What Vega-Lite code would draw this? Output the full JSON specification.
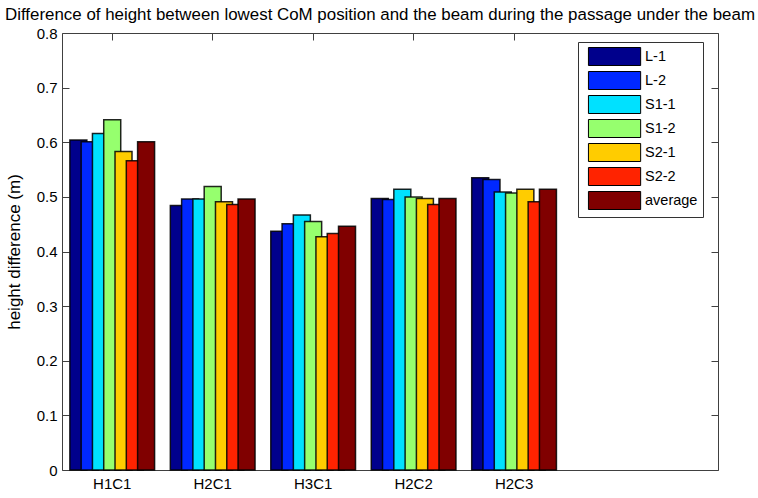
{
  "$schema": "https://vega.github.io/schema/vega-lite/v6.json",
  "width": 656,
  "height": 437,
  "padding": {"left": 5, "top": 5, "right": 5, "bottom": 5},
  "title": {"text": "Difference of height between lowest CoM position and the beam during the passage under the beam", "fontSize": 16.9, "fontWeight": "normal", "font": "Liberation Sans", "color": "black", "offset": 2.5, "dx": -10},
  "config": {
    "font": "Liberation Sans",
    "view": {"stroke": "#404040", "strokeWidth": 1},
    "axis": {"grid": false, "labelColor": "black", "titleColor": "black", "tickColor": "#404040", "domain": false, "labelFontSize": 15, "titleFontSize": 17, "titleFontWeight": "normal"}
  },
  "data": {"values": [
    {"group": "H1C1", "series": "L-1", "value": 0.604},
    {"group": "H1C1", "series": "L-2", "value": 0.601},
    {"group": "H1C1", "series": "S1-1", "value": 0.616},
    {"group": "H1C1", "series": "S1-2", "value": 0.641},
    {"group": "H1C1", "series": "S2-1", "value": 0.583},
    {"group": "H1C1", "series": "S2-2", "value": 0.566},
    {"group": "H1C1", "series": "average", "value": 0.601},
    {"group": "H2C1", "series": "L-1", "value": 0.484},
    {"group": "H2C1", "series": "L-2", "value": 0.496},
    {"group": "H2C1", "series": "S1-1", "value": 0.496},
    {"group": "H2C1", "series": "S1-2", "value": 0.519},
    {"group": "H2C1", "series": "S2-1", "value": 0.491},
    {"group": "H2C1", "series": "S2-2", "value": 0.486},
    {"group": "H2C1", "series": "average", "value": 0.496},
    {"group": "H3C1", "series": "L-1", "value": 0.437},
    {"group": "H3C1", "series": "L-2", "value": 0.451},
    {"group": "H3C1", "series": "S1-1", "value": 0.467},
    {"group": "H3C1", "series": "S1-2", "value": 0.455},
    {"group": "H3C1", "series": "S2-1", "value": 0.427},
    {"group": "H3C1", "series": "S2-2", "value": 0.433},
    {"group": "H3C1", "series": "average", "value": 0.446},
    {"group": "H2C2", "series": "L-1", "value": 0.497},
    {"group": "H2C2", "series": "L-2", "value": 0.495},
    {"group": "H2C2", "series": "S1-1", "value": 0.514},
    {"group": "H2C2", "series": "S1-2", "value": 0.500},
    {"group": "H2C2", "series": "S2-1", "value": 0.497},
    {"group": "H2C2", "series": "S2-2", "value": 0.486},
    {"group": "H2C2", "series": "average", "value": 0.497},
    {"group": "H2C3", "series": "L-1", "value": 0.535},
    {"group": "H2C3", "series": "L-2", "value": 0.532},
    {"group": "H2C3", "series": "S1-1", "value": 0.509},
    {"group": "H2C3", "series": "S1-2", "value": 0.507},
    {"group": "H2C3", "series": "S2-1", "value": 0.514},
    {"group": "H2C3", "series": "S2-2", "value": 0.491},
    {"group": "H2C3", "series": "average", "value": 0.514}
  ]},
  "resolve": {"axis": {"x": "independent", "y": "independent"}},
  "layer": [
    {
      "mark": {"type": "bar", "width": 17, "stroke": "black", "strokeWidth": 1.5, "strokeOpacity": 0.85},
      "encoding": {
        "x": {"field": "group", "type": "nominal", "sort": ["H1C1", "H2C1", "H3C1", "H2C2", "H2C3"],
              "scale": {"domain": ["H1C1", "H2C1", "H3C1", "H2C2", "H2C3"], "paddingInner": 0, "paddingOuter": 0.765, "align": 0},
              "axis": {"orient": "bottom", "title": null, "labelAngle": 0, "tickSize": -7, "labelPadding": 13}},
        "xOffset": {"field": "series", "type": "nominal", "sort": ["L-1", "L-2", "S1-1", "S1-2", "S2-1", "S2-2", "average"],
              "scale": {"paddingInner": 0, "paddingOuter": 0.95}},
        "y": {"field": "value", "type": "quantitative",
              "scale": {"domain": [0, 0.8], "nice": false, "zero": true},
              "axis": {"orient": "left", "title": "height difference (m)", "values": [0, 0.1, 0.2, 0.3, 0.4, 0.5, 0.6, 0.7, 0.8], "format": ".1~f", "tickSize": -7, "labelPadding": 12, "titlePadding": 13}},
        "color": {"field": "series", "type": "nominal",
              "scale": {"domain": ["L-1", "L-2", "S1-1", "S1-2", "S2-1", "S2-2", "average"],
                        "range": ["#00008c", "#0028ff", "#00e1ff", "#96ff6e", "#ffcc00", "#ff2300", "#800000"]},
              "legend": {"title": null, "orient": "none", "legendX": 516, "legendY": 9, "strokeColor": "#333333", "fillColor": "white", "padding": 5,
                         "symbolType": "M-0.45,-1H5.35V1H-0.45Z", "symbolSize": 324, "symbolStrokeColor": "black", "symbolStrokeWidth": 1, "symbolOpacity": 1,
                         "labelOffset": 43, "labelFontSize": 14.5, "labelColor": "black", "rowPadding": 1}}
      }
    },
    {
      "mark": {"type": "bar", "width": 17, "opacity": 0},
      "encoding": {
        "x": {"field": "group", "type": "nominal", "sort": ["H1C1", "H2C1", "H3C1", "H2C2", "H2C3"],
              "axis": {"orient": "top", "title": null, "labels": false, "tickSize": -7}},
        "xOffset": {"field": "series", "type": "nominal", "sort": ["L-1", "L-2", "S1-1", "S1-2", "S2-1", "S2-2", "average"]},
        "y": {"field": "value", "type": "quantitative",
              "axis": {"orient": "right", "title": null, "labels": false, "values": [0, 0.1, 0.2, 0.3, 0.4, 0.5, 0.6, 0.7, 0.8], "tickSize": -7}}
      }
    }
  ]
}
